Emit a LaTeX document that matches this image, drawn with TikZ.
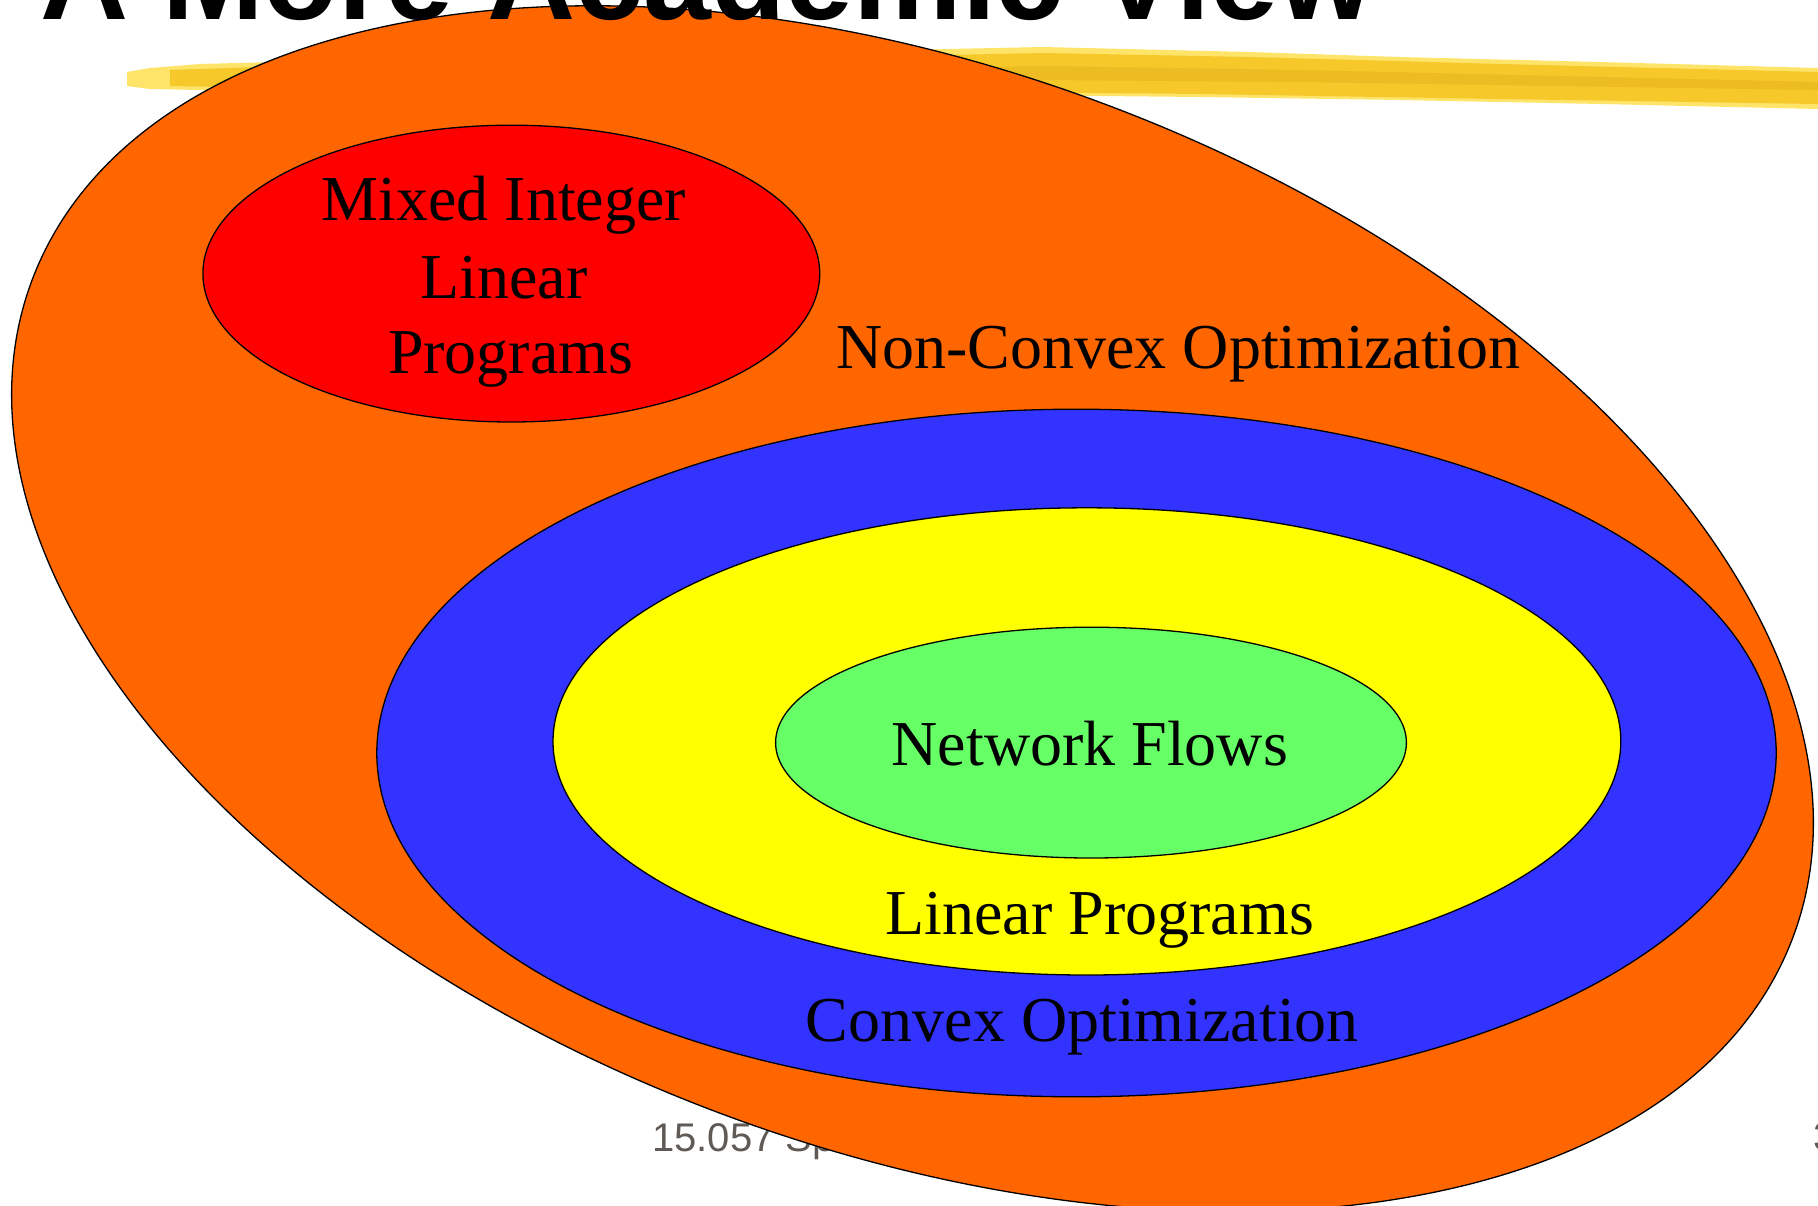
\documentclass[tikz,border=0pt]{standalone}
\usepackage{fontspec}
\setmainfont{Liberation Serif}
\newfontfamily\arialf{Liberation Sans}
\usetikzlibrary{shapes.geometric}
\definecolor{cOrange}{HTML}{FF6600}
\definecolor{cRed}{HTML}{FF0000}
\definecolor{cBlue}{HTML}{3333FF}
\definecolor{cYellow}{HTML}{FFFF00}
\definecolor{cGreen}{HTML}{66FF66}
\definecolor{cGoldA}{HTML}{FFE46A}
\definecolor{cGoldB}{HTML}{F6C82A}
\definecolor{cGoldC}{HTML}{E6B41E}
\definecolor{cFoot}{HTML}{5F5A55}
\tikzset{
  setbox/.style={ellipse, draw=black, line width=1.3pt, inner sep=0pt},
  lbl/.style={inner sep=0pt, anchor=base, font=\fontsize{64}{76}\selectfont},
  foot/.style={inner sep=0pt, anchor=base west, text=cFoot, font=\arialf\fontsize{40}{48}\selectfont},
}
\begin{document}
\begin{tikzpicture}[x=1pt,y=1pt]
\useasboundingbox (0,0) rectangle (1818,-1205);
% footer (behind)
\node[foot] (footl) at (652,-1151) {15.057 Sp};
\node[foot] (footr) at (1813,-1150) {3};
% brush stroke
\fill[cGoldA] (127,-72) -- (150,-68) -- (200,-64) -- (350,-60) -- (600,-56) -- (900,-50) -- (1043,-47) -- (1250,-52) -- (1400,-57) -- (1600,-62) -- (1818,-68)
  -- (1818,-109) -- (1600,-104) -- (1400,-100) -- (1200,-97) -- (1000,-95) -- (700,-93) -- (400,-92) -- (250,-91) -- (150,-89) -- (127,-86) -- cycle;
\fill[cGoldB] (170,-70) -- (350,-64) -- (700,-60) -- (1043,-53) -- (1250,-57) -- (1500,-64) -- (1818,-72)
  -- (1818,-104) -- (1500,-99) -- (1200,-94) -- (900,-91) -- (500,-89) -- (300,-88) -- (170,-86) -- cycle;
\fill[cGoldC, opacity=0.6] (400,-74) -- (800,-70) -- (1043,-66) -- (1300,-70) -- (1818,-82)
  -- (1818,-90) -- (1300,-82) -- (1043,-80) -- (800,-80) -- (400,-80) -- cycle;
% orange outer set
\node[setbox, fill=cOrange, minimum width=1879.6pt, minimum height=1080pt, rotate=-20.4] (nonconvex) at (912.5,-608.7) {};
% title (clipped at top)
\node[inner sep=0pt, anchor=base west, font=\arialf\bfseries\fontsize{122}{130}\selectfont] (title) at (40,-19) {A More Academic View};
% red
\node[setbox, fill=cRed, minimum width=616.8pt, minimum height=296.8pt] (milp) at (511.3,-273.6) {};
% blue
\node[setbox, fill=cBlue, minimum width=1399.4pt, minimum height=687.6pt] (convex) at (1076.5,-753.0) {};
% yellow
\node[setbox, fill=cYellow, minimum width=1067.8pt, minimum height=467.2pt] (lp) at (1086.9,-741.4) {};
% green
\node[setbox, fill=cGreen, minimum width=630.8pt, minimum height=230.8pt] (nf) at (1091.0,-742.6) {};
% labels
\node[lbl] (t1) at (503.8,-220.3) {Mixed Integer};
\node[lbl] (t2) at (503.8,-298.0) {Linear};
\node[lbl] (t3) at (510.7,-373.3) {Programs};
\node[lbl] (tnc) at (1178.5,-368.7) {Non-Convex Optimization};
\node[lbl] (tnf) at (1089.8,-765.0) {Network Flows};
\node[lbl] (tlp) at (1099.7,-934.5) {Linear Programs};
\node[lbl] (tco) at (1082.3,-1041.0) {Convex Optimization};
\end{tikzpicture}
\end{document}
